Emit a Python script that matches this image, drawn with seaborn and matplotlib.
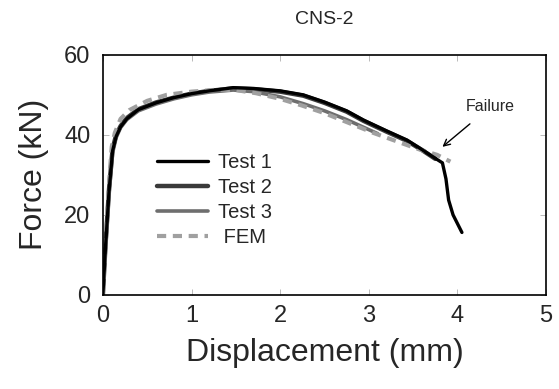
import matplotlib
matplotlib.use("Agg")
import matplotlib.pyplot as plt
import seaborn as sns
import pandas as pd

sns.set_style("ticks")
plt.rcParams['font.family'] = ['Liberation Sans', 'DejaVu Sans']

# Data
test1_x = [0.0, 0.03, 0.07, 0.11, 0.15, 0.2, 0.27, 0.4, 0.6, 0.8, 1.0, 1.2, 1.47, 1.7, 2.0, 2.26, 2.5, 2.75, 2.94, 3.2, 3.43, 3.6, 3.78, 3.83, 3.87, 3.9, 3.95, 4.05]
test1_y = [0.0, 12.0, 26.0, 36.0, 39.6, 42.0, 44.0, 46.3, 48.0, 49.3, 50.3, 51.0, 51.8, 51.6, 51.0, 50.0, 48.2, 46.0, 43.7, 41.0, 38.7, 36.3, 33.7, 33.0, 29.0, 23.7, 20.0, 15.6]

test2_x = [0.0, 0.03, 0.07, 0.11, 0.15, 0.2, 0.27, 0.4, 0.6, 0.8, 1.0, 1.2, 1.47, 1.7, 2.0, 2.26, 2.5, 2.75, 2.94, 3.2, 3.43, 3.6, 3.75]
test2_y = [0.0, 12.5, 26.5, 36.5, 40.0, 42.2, 44.2, 46.4, 48.1, 49.3, 50.3, 51.0, 51.6, 51.4, 50.8, 49.8, 48.0, 45.8, 43.5, 40.8, 38.5, 36.2, 34.0]

test3_x = [0.0, 0.03, 0.07, 0.11, 0.15, 0.2, 0.27, 0.4, 0.6, 0.8, 1.0, 1.2, 1.47, 1.7, 2.0, 2.26, 2.5, 2.75, 2.95, 3.1]
test3_y = [0.0, 11.5, 25.5, 35.5, 39.3, 41.8, 43.8, 46.0, 47.7, 49.0, 50.0, 50.7, 51.2, 50.8, 49.5, 47.8, 46.0, 43.8, 41.8, 40.3]

fem_x = [0.0, 0.03, 0.07, 0.1, 0.135, 0.2, 0.3, 0.5, 0.72, 1.0, 1.3, 1.5, 1.73, 2.0, 2.25, 2.49, 2.75, 3.05, 3.3, 3.55, 3.77, 3.92]
fem_y = [0.0, 13.0, 28.0, 37.0, 40.5, 44.0, 46.2, 48.5, 50.0, 50.8, 51.3, 51.2, 50.4, 49.0, 47.3, 45.5, 43.2, 40.5, 38.5, 36.5, 35.0, 33.3]

series_names = ["Test 1", "Test 2", "Test 3", "FEM"]

df = pd.concat([
    pd.DataFrame({"x": test1_x, "y": test1_y, "s": "Test 1"}),
    pd.DataFrame({"x": test2_x, "y": test2_y, "s": "Test 2"}),
    pd.DataFrame({"x": test3_x, "y": test3_y, "s": "Test 3"}),
    pd.DataFrame({"x": fem_x, "y": fem_y, "s": "FEM"}),
], ignore_index=True)

fig = plt.figure(figsize=(5.59, 3.89), dpi=100)
ax = fig.add_axes([0.184, 0.242, 0.793, 0.617])

styles = {
    "Test 2": dict(color="#3a3a3a", lw=3.2, ls="-"),
    "Test 3": dict(color="#6e6e6e", lw=2.6, ls="-"),
    "FEM": dict(color="#a0a0a0", lw=3.0, ls=(0, (2.2, 1.6))),
    "Test 1": dict(color="#000000", lw=2.4, ls="-"),
}
order_draw = ["Test 2", "Test 3", "FEM", "Test 1"]
handles = {}
for name in order_draw:
    sub = df[df["s"] == name]
    st = styles[name]
    sns.lineplot(data=sub, x="x", y="y", ax=ax, color=st["color"], linewidth=st["lw"],
                 linestyle=st["ls"], sort=False, estimator=None, label=name)
    handles[name] = ax.get_lines()[-1]

ax.set_xlim(0, 5)
ax.set_ylim(0, 60)
ax.set_xticks([0, 1, 2, 3, 4, 5])
ax.set_yticks([0, 20, 40, 60])
ax.tick_params(direction="in", length=4, width=0.6, color="#b0b0b0", labelsize=17,
               top=True, right=True)
ax.tick_params(axis="x", pad=7)
ax.tick_params(axis="y", pad=9)
for sp in ax.spines.values():
    sp.set_linewidth(1.2)
    sp.set_color("black")

ax.set_xlabel("Displacement (mm)", fontsize=23, labelpad=8)
ax.set_ylabel("Force (kN)", fontsize=23, labelpad=11)
ax.set_title("CNS-2", fontsize=14, pad=22)

leg = ax.legend([handles[n] for n in series_names], ["Test 1", "Test 2", "Test 3", " FEM"],
                loc="upper left", bbox_to_anchor=(0.10, 0.632), frameon=False,
                fontsize=14.5, handlelength=2.5, handletextpad=0.5, labelspacing=0.3,
                borderpad=0.0)

ax.annotate("Failure", xy=(3.83, 37.0), xytext=(4.37, 47.0), fontsize=11.5,
            ha="center", va="center",
            arrowprops=dict(arrowstyle="->", color="black", lw=1.0, shrinkA=7, shrinkB=0))

fig.savefig("out.png", dpi=100)
